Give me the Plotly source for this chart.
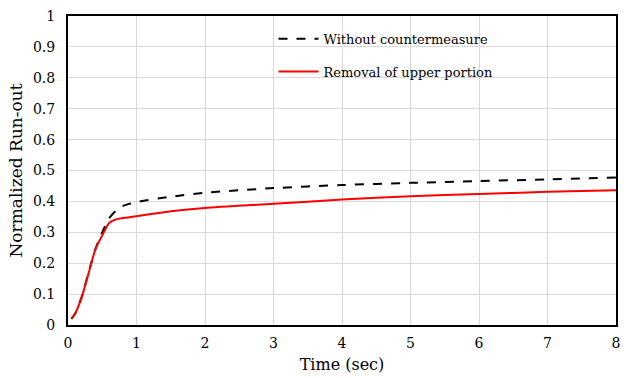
import plotly.graph_objects as go

time_pts = [0.05, 0.1, 0.2, 0.3, 0.4, 0.5, 0.6, 0.7, 0.8, 1.0, 1.5, 2, 3, 4, 5, 6, 7, 8]
without_cm = [0.02, 0.035, 0.09, 0.17, 0.245, 0.30, 0.345, 0.37, 0.385, 0.398, 0.415, 0.428, 0.443, 0.453, 0.46, 0.466, 0.471, 0.477]
removal_upper = [0.022, 0.035, 0.09, 0.167, 0.245, 0.29, 0.33, 0.342, 0.346, 0.352, 0.368, 0.379, 0.392, 0.406, 0.417, 0.424, 0.431, 0.436]

x_ticks = list(range(0, 9))
y_ticks = [round(i * 0.1, 1) for i in range(11)]
y_tick_text = ["0"] + [f"{v:.1f}" for v in y_ticks[1:-1]] + ["1"]

font = "DejaVu Serif"

fig = go.Figure()
fig.add_trace(go.Scatter(x=time_pts, y=without_cm, mode="lines", name="Without countermeasure",
                         legendgroup="a",
                         line=dict(color="black", width=2, dash="dash", shape="spline", smoothing=0.6)))
fig.add_trace(go.Scatter(x=time_pts, y=removal_upper, mode="lines", name="Removal of upper portion",
                         legendgroup="b",
                         line=dict(color="#ff0000", width=2, shape="spline", smoothing=0.6)))

fig.update_layout(
    width=624, height=378,
    margin=dict(l=68, r=4, t=16, b=53),
    paper_bgcolor="white", plot_bgcolor="white",
    font=dict(family=font, size=14, color="black"),
    showlegend=True,
    legend=dict(x=0.375, y=0.975, xanchor="left", yanchor="top", bgcolor="rgba(0,0,0,0)",
                font=dict(family=font, size=13), tracegroupgap=13, itemwidth=40),
    xaxis=dict(range=[0, 8], tickvals=x_ticks, showgrid=True, gridcolor="#d9d9d9", gridwidth=1,
               showline=True, linecolor="black", linewidth=2, mirror=True, zeroline=False,
               ticks="", ticklen=0, ticklabelstandoff=4,
               title=dict(text="Time (sec)", font=dict(family=font, size=16), standoff=9),
               tickfont=dict(family=font, size=14)),
    yaxis=dict(range=[0, 1], tickvals=y_ticks, ticktext=y_tick_text, showgrid=True, gridcolor="#d9d9d9",
               gridwidth=1, showline=True, linecolor="black", linewidth=2, mirror=True, zeroline=False,
               ticks="", ticklabelstandoff=8,
               title=dict(text="Normalized Run-out", font=dict(family=font, size=17), standoff=6),
               tickfont=dict(family=font, size=14)),
)

fig.write_html("out.html")
